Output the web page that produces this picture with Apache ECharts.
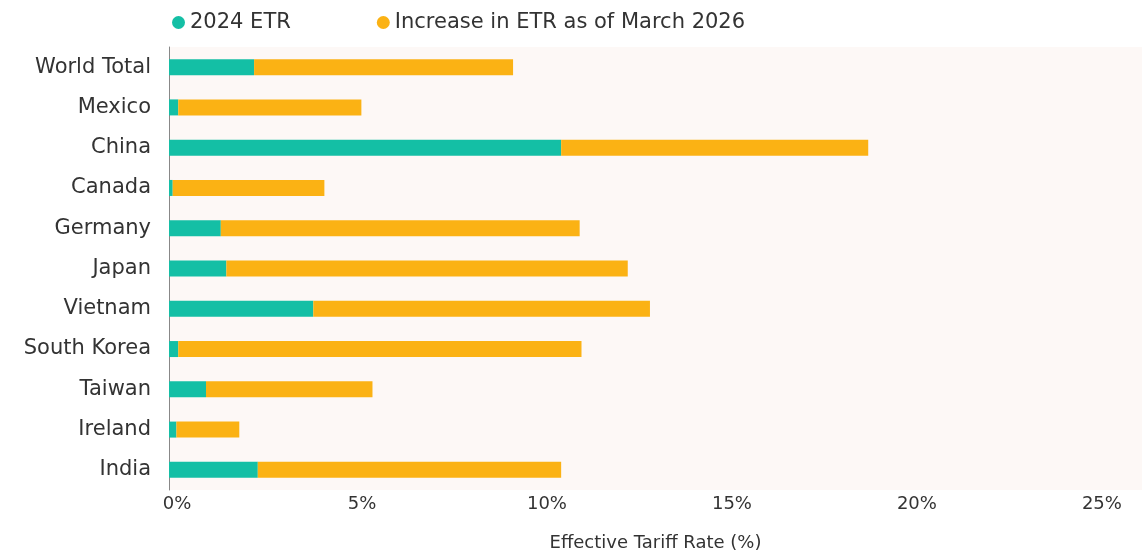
<!DOCTYPE html>
<html>
<head>
<meta charset="utf-8">
<script src="https://cdn.jsdelivr.net/npm/echarts@6/dist/echarts.min.js"></script>
<style>
html,body{margin:0;padding:0;background:#fff;}
#chart{width:1142px;height:550px;}
</style>
</head>
<body>
<div id="chart"></div>
<script>
const categories = ['World Total','Mexico','China','Canada','Germany','Japan','Vietnam','South Korea','Taiwan','Ireland','India'];
const etr2024 = [2.3, 0.25, 10.6, 0.1, 1.4, 1.55, 3.9, 0.25, 1.0, 0.2, 2.4];
const increase2026 = [7.0, 4.95, 8.3, 4.1, 9.7, 10.85, 9.1, 10.9, 4.5, 1.7, 8.2];
const xTicks = [0, 5, 10, 15, 20, 25];

const FONT = '"DejaVu Sans", sans-serif';
const chart = echarts.init(document.getElementById('chart'));
chart.setOption({
  animation: false,
  textStyle: {fontFamily: FONT},
  legend: {
    top: 7,
    left: 167,
    itemGap: 86,
    icon: 'circle',
    itemWidth: 13,
    itemHeight: 13,
    textStyle: {fontFamily: FONT, fontSize: 21, color: '#333'},
    data: ['2024 ETR', 'Increase in ETR as of March 2026']
  },
  grid: {
    left: 169, right: 0, top: 47, bottom: 60,
    outerBoundsMode: 'none',
    containLabel: false,
    show: true, backgroundColor: '#fdf8f6', borderWidth: 0
  },
  xAxis: {
    type: 'value',
    min: 0,
    max: 26.3,
    interval: 5,
    name: 'Effective Tariff Rate (%)',
    nameLocation: 'middle',
    nameGap: 44,
    nameTextStyle: {fontFamily: FONT, fontSize: 18, color: '#333'},
    axisLine: {show: false},
    axisTick: {show: false},
    splitLine: {show: false},
    axisLabel: {
      margin: 5,
      fontSize: 18,
      color: '#333',
      fontFamily: FONT,
      padding: [0, 0, 0, 16],
      showMaxLabel: false,
      formatter: function (v) { return xTicks.indexOf(v) >= 0 ? v + '%' : ''; }
    }
  },
  yAxis: {
    type: 'category',
    data: categories,
    inverse: true,
    axisLine: {show: true, lineStyle: {color: '#888', width: 1}},
    axisTick: {show: false},
    axisLabel: {margin: 18, fontSize: 21, color: '#333', fontFamily: FONT}
  },
  series: [
    {
      name: '2024 ETR', type: 'bar', stack: 'total', barWidth: 16,
      itemStyle: {color: '#14bfa5'},
      data: etr2024
    },
    {
      name: 'Increase in ETR as of March 2026', type: 'bar', stack: 'total', barWidth: 16,
      itemStyle: {color: '#fbb214'},
      data: increase2026
    }
  ]
});
</script>
</body>
</html>
